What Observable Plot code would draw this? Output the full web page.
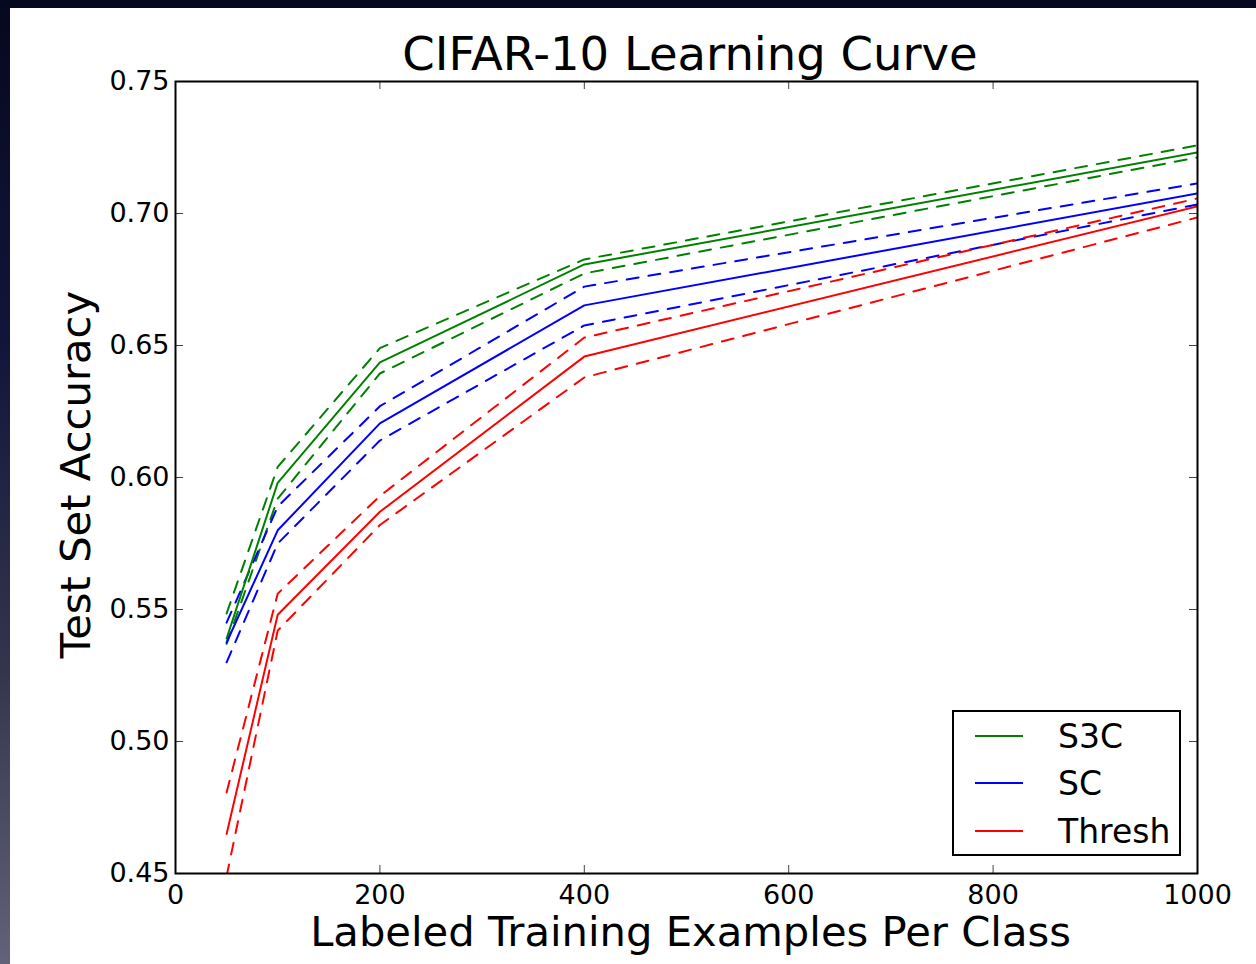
<!DOCTYPE html>
<html>
<head>
<meta charset="utf-8">
<script src="https://cdn.jsdelivr.net/npm/d3@7"></script>
<script src="https://cdn.jsdelivr.net/npm/@observablehq/plot@0.6"></script>
<style>
  html, body { margin: 0; padding: 0; }
  body {
    width: 1256px; height: 964px; overflow: hidden; position: relative;
    background: linear-gradient(to bottom, #060820 0%, #12153a 35%, #34364f 70%, #62627a 100%);
    font-family: "DejaVu Sans", sans-serif;
  }
  #card { position: absolute; left: 10px; top: 8px; width: 1246px; height: 956px; background: #fff; }
  #title { position: absolute; left: 680px; top: 23px; transform: translateX(-50%); white-space: nowrap;
           font-size: 46.5px; line-height: 46.5px; color: #000; }
  #chart { position: absolute; left: 0; top: 60px; }
  #legend { position: absolute; left: 942px; top: 702px; width: 225px; height: 142px;
            border: 2px solid #000; background: #fff; }
  .swatch { position: absolute; left: 21px; width: 48px; height: 2px; }
  .lab { position: absolute; left: 104px; font-size: 33px; line-height: 33px; color: #000; white-space: nowrap; }
</style>
</head>
<body>
<div id="card">
  <div id="title">CIFAR-10 Learning Curve</div>
  <div id="chart"></div>
  <div id="legend"></div>
</div>
<script>
// ---- data ----
const examples = [50, 100, 200, 400, 1000];
const seriesNames = ["S3C", "SC", "Thresh"];
const seriesColors = ["#008000", "#0000ff", "#ff0000"];

const s3cMean  = [0.539, 0.598, 0.6436, 0.6807, 0.7231];
const s3cUpper = [0.5485, 0.604, 0.649, 0.6826, 0.7258];
const s3cLower = [0.537, 0.592, 0.6394, 0.6773, 0.7212];

const scMean  = [0.5375, 0.580, 0.6205, 0.6652, 0.7076];
const scUpper = [0.545, 0.589, 0.627, 0.6723, 0.7114];
const scLower = [0.530, 0.575, 0.6140, 0.6576, 0.7034];

const threshMean  = [0.465, 0.548, 0.587, 0.6458, 0.7027];
const threshUpper = [0.4807, 0.556, 0.593, 0.653, 0.7057];
const threshLower = [0.449, 0.542, 0.582, 0.6379, 0.6985];

const xTicks = [0, 200, 400, 600, 800, 1000];
const yTicks = [0.45, 0.50, 0.55, 0.60, 0.65, 0.70, 0.75];

const titleText = "CIFAR-10 Learning Curve";
const xLabel = "Labeled Training Examples Per Class";
const yLabel = "Test Set Accuracy";

// ---- build table ----
const seriesData = {
  "S3C": {mean: s3cMean, upper: s3cUpper, lower: s3cLower},
  "SC": {mean: scMean, upper: scUpper, lower: scLower},
  "Thresh": {mean: threshMean, upper: threshUpper, lower: threshLower}
};
const rows = [];
for (const s of seriesNames) {
  for (const kind of ["mean", "upper", "lower"]) {
    seriesData[s][kind].forEach((v, i) => rows.push({series: s, kind, x: examples[i], y: v}));
  }
}

const W = 1246, H = 896, mL = 165, mR = 59, mT = 13, mB = 91;
const frameW = W - mL - mR, frameH = H - mT - mB;
const TICK = 8;
const tickColor = "#444";

const chart = Plot.plot({
  width: W, height: H,
  marginLeft: mL, marginRight: mR, marginTop: mT, marginBottom: mB,
  style: {fontFamily: "DejaVu Sans, sans-serif", background: "transparent", color: "#000", overflow: "visible"},
  x: {domain: [0, 1000]},
  y: {domain: [0.45, 0.75]},
  color: {domain: seriesNames, range: seriesColors},
  marks: [
    Plot.ruleX(xTicks, {x: d => d, insetTop: frameH - TICK, stroke: tickColor, strokeWidth: 1}),
    Plot.ruleX(xTicks, {x: d => d, insetBottom: frameH - TICK, stroke: tickColor, strokeWidth: 1}),
    Plot.ruleY(yTicks, {y: d => d, insetRight: frameW - TICK, stroke: tickColor, strokeWidth: 1}),
    Plot.ruleY(yTicks, {y: d => d, insetLeft: frameW - TICK, stroke: tickColor, strokeWidth: 1}),
    Plot.line(rows.filter(d => d.kind !== "mean"), {
      x: "x", y: "y", z: d => d.series + "-" + d.kind, stroke: "series",
      strokeWidth: 2, strokeDasharray: "12,10", clip: true
    }),
    Plot.line(rows.filter(d => d.kind === "mean"), {
      x: "x", y: "y", z: "series", stroke: "series", strokeWidth: 2, clip: true
    }),
    Plot.frame({stroke: "#000", strokeWidth: 2}),
    Plot.axisX(xTicks, {anchor: "bottom", tickSize: 0, tickPadding: 11, fontSize: 27, tickFormat: d => String(d), label: null}),
    Plot.axisY(yTicks, {anchor: "left", tickSize: 0, tickPadding: 6, fontSize: 27, tickFormat: d3.format(".2f"), label: null}),
    Plot.text([xLabel], {text: d => d, frameAnchor: "bottom", dx: 4, dy: 59, fontSize: 41.7, lineAnchor: "middle", textAnchor: "middle", fill: "#000"}),
    Plot.text([yLabel], {text: d => d, frameAnchor: "left", dx: -99, dy: -3, rotate: -90, fontSize: 41.7, lineAnchor: "middle", textAnchor: "middle", fill: "#000"})
  ]
});
document.getElementById("chart").appendChild(chart);
document.getElementById("title").textContent = titleText;

// legend
const legend = document.getElementById("legend");
const rowY = [24, 71, 119];
seriesNames.forEach((name, i) => {
  const sw = document.createElement("div");
  sw.className = "swatch";
  sw.style.top = (rowY[i] - 1) + "px";
  sw.style.background = seriesColors[i];
  legend.appendChild(sw);
  const lab = document.createElement("div");
  lab.className = "lab";
  lab.style.top = (rowY[i] - 15.9) + "px";
  lab.textContent = name;
  legend.appendChild(lab);
});
</script>
</body>
</html>
